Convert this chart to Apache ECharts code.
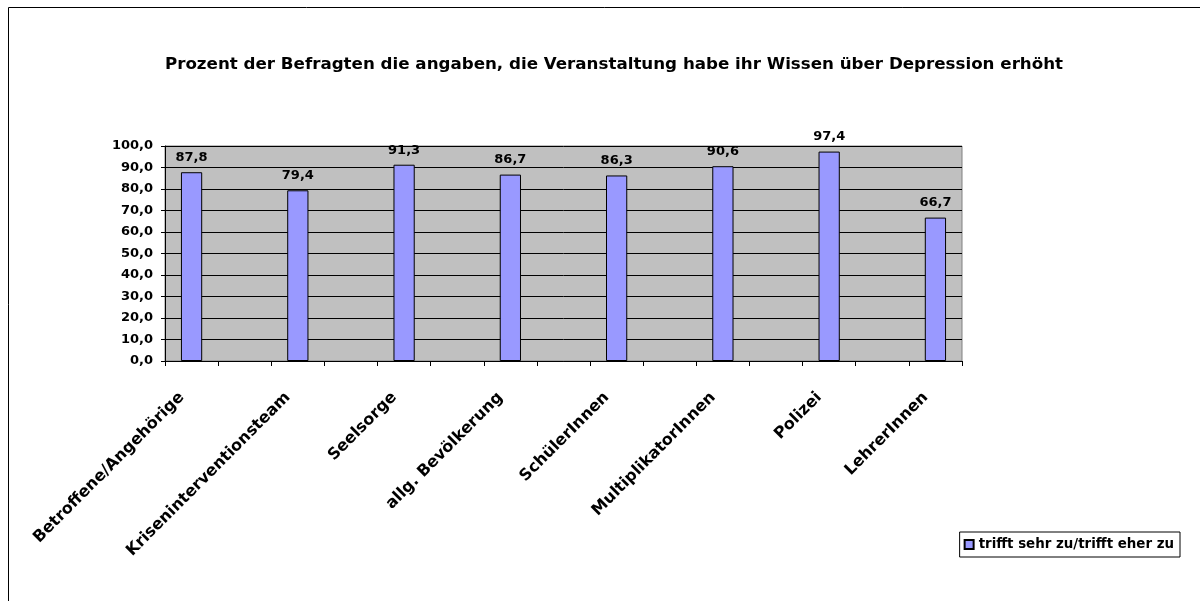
<!DOCTYPE html>
<html>
<head>
<meta charset="utf-8">
<script src="https://cdn.jsdelivr.net/npm/echarts@6/dist/echarts.min.js"></script>
<style>
  html, body { margin: 0; padding: 0; background: #fff; }
  #chart { width: 1200px; height: 601px; }
</style>
</head>
<body>
<div id="chart"></div>
<script>
// Befragtengruppen und Werte (Prozent)
var categories = ['Betroffene/Angehörige', 'Kriseninterventionsteam', 'Seelsorge', 'allg. Bevölkerung',
  'SchülerInnen', 'MultiplikatorInnen', 'Polizei', 'LehrerInnen']
var values = [87.8, 79.4, 91.3, 86.7, 86.3, 90.6, 97.4, 66.7]
var yTicks = [0, 10, 20, 30, 40, 50, 60, 70, 80, 90, 100]
var seriesName = 'trifft sehr zu/trifft eher zu'
var titleText = 'Prozent der Befragten die angaben, die Veranstaltung habe ihr Wissen über Depression erhöht'

// im Original liegt zwischen den Gruppen jeweils eine leere Kategorie
var xCats = []
var xData = []
categories.forEach(function (c, i) {
  xCats.push(c)
  xData.push(values[i])
  if (i < categories.length - 1) {
    xCats.push(' ' + i)
    xData.push('-')
  }
})

var myChart = echarts.init(document.getElementById('chart'))
var font = 'DejaVu Sans, Verdana, sans-serif'

var option = {
  animation: false,
  textStyle: { fontFamily: font },
  title: {
    text: titleText,
    left: 609,
    textAlign: 'center',
    top: 51,
    textStyle: { fontSize: 16.7, fontWeight: 'bold', color: '#000', fontFamily: font }
  },
  graphic: [
    {
      type: 'rect',
      shape: { x: 8.5, y: 7.5, width: 1300, height: 700 },
      style: { fill: 'none', stroke: '#000', lineWidth: 1 },
      silent: true,
      z: -1
    }
  ],
  legend: {
    right: 20,
    top: 532,
    padding: [6, 6, 6, 4],
    borderColor: '#000',
    borderWidth: 1,
    itemWidth: 9,
    itemHeight: 9,
    itemGap: 4,
    icon: 'rect',
    textStyle: { fontSize: 13.4, fontWeight: 'bold', color: '#000', fontFamily: font },
    data: [seriesName]
  },
  grid: {
    left: 165,
    right: 238,
    top: 146,
    height: 215,
    show: true,
    backgroundColor: '#C0C0C0',
    borderColor: '#808080',
    borderWidth: 1
  },
  xAxis: {
    type: 'category',
    data: xCats,
    axisLine: { show: true, lineStyle: { color: '#000', width: 1 } },
    axisTick: { show: true, interval: 0, alignWithLabel: false, length: 5, lineStyle: { color: '#000' } },
    axisLabel: {
      interval: 0,
      rotate: 45,
      margin: 24,
      padding: [0, 14, 0, 0],
      fontSize: 16,
      fontWeight: 'bold',
      color: '#000',
      fontFamily: font,
      formatter: function (v) {
        return categories.indexOf(v) >= 0 ? v : ''
      }
    },
    splitLine: { show: false }
  },
  yAxis: {
    type: 'value',
    min: yTicks[0],
    max: yTicks[yTicks.length - 1],
    interval: 10,
    axisLine: { show: true, lineStyle: { color: '#000', width: 1 } },
    axisTick: { show: true, length: 4, lineStyle: { color: '#000' } },
    axisLabel: {
      margin: 12,
      fontSize: 13,
      fontWeight: 'bold',
      color: '#000',
      fontFamily: font,
      formatter: function (v) {
        return v.toFixed(1).replace('.', ',')
      }
    },
    splitLine: { show: true, lineStyle: { color: '#000', width: 1 } }
  },
  series: [
    {
      name: seriesName,
      type: 'bar',
      data: xData,
      barWidth: '40%',
      itemStyle: {
        color: '#9999FF',
        borderColor: '#000',
        borderWidth: 1
      },
      label: {
        show: true,
        position: 'top',
        distance: 8,
        fontSize: 13,
        fontWeight: 'bold',
        color: '#000',
        fontFamily: font,
        formatter: function (p) {
          return p.value.toFixed(1).replace('.', ',')
        }
      }
    }
  ]
}

option && myChart.setOption(option)
</script>
</body>
</html>
